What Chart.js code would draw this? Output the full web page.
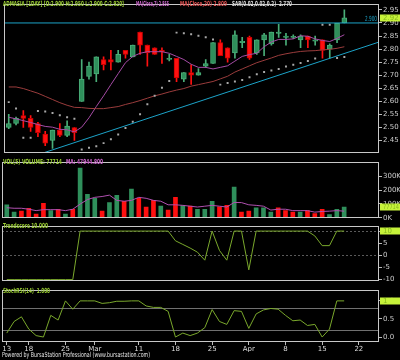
<!DOCTYPE html>
<html>
<head>
<meta charset="utf-8">
<script src="https://cdn.jsdelivr.net/npm/chart.js@4.4.0/dist/chart.umd.min.js"></script>
<style>
body{margin:0;background:#000;}
#wrap{position:relative;width:400px;height:360px;background:#000;overflow:hidden;}
#wrap canvas{position:absolute;left:0;display:block;}
</style>
</head>
<body>
<div id="wrap">
<canvas id="cPrice" width="400" height="158" style="top:0"></canvas>
<canvas id="cVol" width="400" height="65" style="top:158px"></canvas>
<canvas id="cTrend" width="400" height="64" style="top:222px"></canvas>
<canvas id="cStoch" width="400" height="74" style="top:286px"></canvas>
</div>
<script>
// one index per trading day, 13 Feb -> 18 Apr (axis runs on to 22 Apr)
const tickIdx  = [0,3,8,12,18,23,28,33,38,43,48];
const tickText = ['13','18','25','Mar','11','18','25','Apr','8','15','22'];

const opens  = [2.500,2.515,2.545,2.535,2.515,2.475,2.450,2.490,2.470,2.500, 2.600,2.695,2.705,2.760,2.760,2.750,2.795,2.770,2.865,2.815, 2.805,2.795,2.760,2.765,2.685,2.710,2.700,2.735,2.745,2.825, 2.805,2.785,2.825,2.845,2.785,2.835,2.820,2.860,2.845,2.845, 2.835,2.850,2.830,2.835,2.800,2.835,2.900];
const highs  = [2.550,2.540,2.565,2.545,2.520,2.485,2.490,2.515,2.525,2.500, 2.760,2.750,2.770,2.770,2.795,2.795,2.795,2.815,2.865,2.815, 2.805,2.805,2.780,2.765,2.710,2.740,2.725,2.760,2.825,2.835, 2.805,2.870,2.845,2.850,2.835,2.860,2.865,2.895,2.860,2.855, 2.855,2.850,2.850,2.835,2.820,2.895,2.950];
const lows   = [2.495,2.510,2.500,2.485,2.465,2.430,2.420,2.465,2.465,2.450, 2.600,2.685,2.675,2.720,2.720,2.750,2.765,2.770,2.780,2.735, 2.780,2.745,2.755,2.675,2.675,2.665,2.700,2.730,2.745,2.775, 2.750,2.765,2.805,2.760,2.780,2.775,2.815,2.845,2.815,2.840, 2.805,2.805,2.815,2.765,2.765,2.825,2.900];
const closes = [2.515,2.535,2.535,2.500,2.480,2.440,2.490,2.470,2.505,2.480, 2.685,2.735,2.770,2.740,2.750,2.780,2.780,2.815,2.815,2.785, 2.780,2.790,2.765,2.690,2.710,2.700,2.710,2.745,2.825,2.775, 2.765,2.855,2.830,2.765,2.835,2.855,2.865,2.865,2.850,2.845, 2.850,2.835,2.835,2.795,2.815,2.900,2.920];
const ma7  = [2.539,2.533,2.526,2.519,2.511,2.504,2.501,2.493,2.491,2.483, 2.501,2.537,2.580,2.621,2.664,2.706,2.748,2.772,2.784,2.790, 2.790,2.790,2.784,2.772,2.760,2.742,2.730,2.730,2.724,2.730, 2.736,2.754,2.772,2.779,2.784,2.809,2.827,2.837,2.837,2.839, 2.851,2.849,2.839,2.833,2.829,2.841,2.855];
const ma20 = [2.655,2.655,2.649,2.640,2.631,2.619,2.607,2.595,2.585,2.577, 2.576,2.573,2.572,2.572,2.576,2.580,2.588,2.595,2.603,2.612, 2.621,2.628,2.636,2.643,2.649,2.658,2.664,2.670,2.676,2.686, 2.696,2.712,2.724,2.736,2.748,2.757,2.766,2.776,2.782,2.787, 2.791,2.793,2.794,2.797,2.799,2.803,2.809];
const sar  = [2.597,2.573,2.461,2.461,2.563,2.561,2.555,2.547,2.539,2.533, 2.416,2.422,2.428,2.440,2.455,2.473,2.498,2.522,2.551,2.589, 2.621,2.652,2.678,2.863,2.861,2.857,2.851,2.845,2.837,2.664, 2.670,2.676,2.682,2.692,2.704,2.712,2.718,2.724,2.733,2.740, 2.747,2.754,2.764,2.893,2.893,2.766,2.770];
const volumes = [94000,41000,48000,69000,27000,105000,52000,62000,27000,62000, 360000,169000,141000,48000,111000,162000,120000,207000,141000,78000, 126000,84000,56000,148000,88000,84000,62000,62000,120000,80000, 90000,222000,41000,48000,73000,73000,41000,73000,52000,41000, 41000,52000,31000,62000,24000,62000,77714];
const volMa5 = [73000,69000,69000,62000,52000,59000,59000,59000,52000,62000, 99000,132000,148000,154000,164000,126000,120000,126000,148000,141000, 126000,120000,94000,94000,90000,84000,78000,84000,90000,84000, 78000,111000,110000,94000,90000,84000,56000,62000,62000,52000, 52000,52000,41000,46000,48000,52000,47945];
const trendScore = [-10,-10,-10,-10,-10,-10,-10,-10,-10,-10, 10,10,10,10,10,10,10,10,10,10, 10,10,10,6,4.5,3,1.3,-2,10,2, -2,10,10,-6,10,10,10,10,10,10, 10,10,8,4,4,10,10];
const stochRsi = [0.11,0.43,0.56,0.22,0.04,0,0.60,0.47,1.0,0.77, 1.0,1.0,1.0,0.93,0.95,0.99,0.99,1.0,1.0,0.86, 0.82,0.82,0.71,0,0.11,0.04,0.11,0.26,0.76,0.43, 0.35,0.73,0.71,0.24,0.64,0.75,0.79,0.77,0.60,0.45, 0.47,0.32,0.35,0,0.22,1.0,1.0];

const priceTicks = [2.45,2.50,2.55,2.60,2.65,2.70,2.75,2.80,2.85,2.90,2.95];
const volTicks   = [0,100000,200000,300000];
const trendTicks = [-10,-5,0,5,10];
const stochTicks = [0,0.5,1];
const trendLevels = [-10,0,10];
const stochLevels = [0.2,0.8];
const resistance = 2.90;
const trendLine = [{x:4.9,y:2.404},{x:50.75,y:2.827}];

const UP='#2f8f5b', UPB='#4aae78', DN='#ff1010', DNB='#c80000';
const idx = closes.map((c,i)=>i);
const pts = arr => arr.map((v,i)=>({x:i,y:v}));
const isUp = i => closes[i] >= opens[i];
const volUp = i => i==0 || closes[i] > closes[i-1];

Chart.defaults.font.family = 'DejaVu Sans';
Chart.defaults.animation = false;

function xScale(show){
  return {
    type:'linear', min:-0.65, max:50.75, offset:false, display:show,
    afterBuildTicks: s => { s.ticks = tickIdx.map(v=>({value:v})); },
    afterFit: s => { if(show) s.height = 10; },
    grid:{drawOnChartArea:false, tickLength:3, color:'#bbbbbb'},
    border:{display:false},
    ticks:{autoSkip:false, maxRotation:0, padding:0, color:'#dddddd', font:{size:7},
      callback: v => tickText[tickIdx.indexOf(v)]}
  };
}
function yScale(min,max,ticks,fmt){
  return {
    position:'right', min:min, max:max,
    afterBuildTicks: s => { s.ticks = ticks.map(v=>({value:v})); },
    afterFit: s => { s.width = 21; },
    grid:{drawOnChartArea:false, tickLength:3, color:'#bbbbbb'},
    border:{display:false},
    ticks:{padding:1, color:'#cccccc', font:{size:7}, callback: fmt}
  };
}

function deco(cfg){
  return {
    id:'deco',
    beforeDatasetsDraw(chart){
      const a=chart.chartArea, y=chart.scales.y, c=chart.ctx;
      (cfg.levels||[]).forEach(v=>{
        const py=Math.round(y.getPixelForValue(v))+0.5;
        c.save(); c.strokeStyle=cfg.levelColor; c.lineWidth=1; c.setLineDash(cfg.levelDash||[]);
        c.beginPath(); c.moveTo(a.left,py); c.lineTo(a.right,py); c.stroke(); c.restore();
      });
    },
    afterDraw(chart){
      const a=chart.chartArea, y=chart.scales.y, c=chart.ctx;
      c.save();
      c.strokeStyle='#c8c8c8'; c.lineWidth=1;
      c.strokeRect(Math.round(a.left)+0.5, Math.round(a.top)-0.5, Math.round(a.width)-1, Math.round(a.height));
      c.textBaseline='middle';
      c.font='bold 7px DejaVu Sans';
      cfg.titles.forEach(t=>{ c.fillStyle=t.color; c.fillText(t.text, t.x, t.y, t.w); });
      c.font='7px DejaVu Sans';
      if(cfg.lineLabel){
        c.fillStyle='#1ca3c8'; c.textAlign='right';
        c.fillText(cfg.lineLabel.text, a.right-2, y.getPixelForValue(cfg.lineLabel.value)-4, 12);
        c.textAlign='left';
      }
      const py=y.getPixelForValue(cfg.box.value);
      c.fillStyle='#c6f23a'; c.fillRect(a.right+1, Math.round(py)-3.5, 20, 7);
      c.fillStyle='#86b81e'; c.fillText(cfg.box.text, a.right+4, py, 16);
      if(cfg.footer){
        c.fillStyle='#e6e6e6'; c.fillText(cfg.footer, 2, chart.height-5, 148);
      }
      c.restore();
    }
  };
}

const baseOpts = (x,y,pad) => ({
  responsive:false, events:[],
  layout:{padding:pad},
  plugins:{legend:{display:false}, tooltip:{enabled:false}},
  scales:{x:x, y:y}
});

new Chart(document.getElementById('cPrice'), {
  type:'bar',
  data:{datasets:[
    {type:'line', data:[{x:-0.65,y:resistance},{x:50.75,y:resistance}], borderColor:'#1ca3c8', borderWidth:1, pointRadius:0, order:1},
    {type:'line', data:trendLine, borderColor:'#1ca3c8', borderWidth:1, pointRadius:0, order:1},
    {type:'line', data:pts(sar), showLine:false, pointStyle:'rect', pointRadius:1.4, pointBorderWidth:0, pointBackgroundColor:'#a8a8a8', order:2},
    {type:'line', data:pts(ma20), borderColor:'#9a3c3c', borderWidth:1, pointRadius:0, order:2},
    {type:'line', data:pts(ma7), borderColor:'#a64ca6', borderWidth:1, pointRadius:0, order:2},
    {data:idx.map(i=>({x:i,y:[opens[i],closes[i]]})), grouped:false, barThickness:5, minBarLength:1,
      backgroundColor:c=>isUp(c.dataIndex)?UP:DN, borderColor:c=>isUp(c.dataIndex)?UPB:DNB, borderWidth:1, borderSkipped:false, order:4},
    {data:idx.map(i=>({x:i,y:[lows[i],highs[i]]})), grouped:false, barThickness:1,
      backgroundColor:c=>isUp(c.dataIndex)?UPB:DN, order:5}
  ]},
  options: baseOpts(xScale(false), yScale(2.403,2.968,priceTicks,v=>v.toFixed(2)), {left:2,top:1,bottom:1,right:0}),
  plugins:[deco({
    titles:[
      {text:'ADMASIA [1DAY] [O:2.900 H:2.950 L:2.900 C:2.920]', color:'#99cc33', x:3, y:4, w:121},
      {text:'MA(Close,7) 2.855', color:'#cc66cc', x:136, y:4, w:33},
      {text:'MA(Close,20) 2.809', color:'#e05050', x:180, y:4, w:47},
      {text:'SAR(0.02,0.02,0.2)  2.770', color:'#dddddd', x:232, y:4, w:60}
    ],
    lineLabel:{value:resistance, text:'2.900'},
    box:{value:closes[closes.length-1], text:'2.92'}
  })]
});

new Chart(document.getElementById('cVol'), {
  type:'bar',
  data:{datasets:[
    {type:'line', data:pts(volMa5), borderColor:'#b050b0', borderWidth:1, pointRadius:0, order:1},
    {data:pts(volumes), grouped:false, barThickness:4,
      backgroundColor:c=>volUp(c.dataIndex)?UP:DN, order:3}
  ]},
  options: baseOpts(xScale(false), yScale(0,395000,volTicks,v=>(v/1000)+'K'), {left:2,top:1.5,bottom:1.5,right:0}),
  plugins:[deco({
    titles:[
      {text:'VOL(5) VOLUME: 77714', color:'#99cc33', x:3, y:4, w:59},
      {text:'MA: 47944.800', color:'#cc66cc', x:66, y:4, w:37}
    ],
    box:{value:volumes[volumes.length-1], text:'77714'}
  })]
});

new Chart(document.getElementById('cTrend'), {
  type:'line',
  data:{datasets:[
    {data:pts(trendScore), borderColor:'#7aa82c', borderWidth:1, pointRadius:0}
  ]},
  options: baseOpts(xScale(false), yScale(-10.5,11.6,trendTicks,v=>String(v)), {left:2,top:1.5,bottom:0.5,right:0}),
  plugins:[deco({
    levels:trendLevels, levelColor:'#5a5a5a', levelDash:[2,2],
    titles:[{text:'Trendscore 10.000', color:'#99cc33', x:3, y:4, w:45}],
    box:{value:trendScore[trendScore.length-1], text:'10'}
  })]
});

new Chart(document.getElementById('cStoch'), {
  type:'line',
  data:{datasets:[
    {data:pts(stochRsi), borderColor:'#7aa82c', borderWidth:1, pointRadius:0}
  ]},
  options: baseOpts(xScale(true), yScale(-0.137,1.268,stochTicks,v=>v.toFixed(1)), {left:2,top:1.5,bottom:8,right:0}),
  plugins:[deco({
    levels:stochLevels, levelColor:'#707070',
    titles:[{text:'StochRSI(14)  1.000', color:'#99cc33', x:3, y:5, w:47}],
    box:{value:stochRsi[stochRsi.length-1], text:'1'},
    footer:'Powered by BursaStation Professional (www.bursastation.com)'
  })]
});
</script>
</body>
</html>
